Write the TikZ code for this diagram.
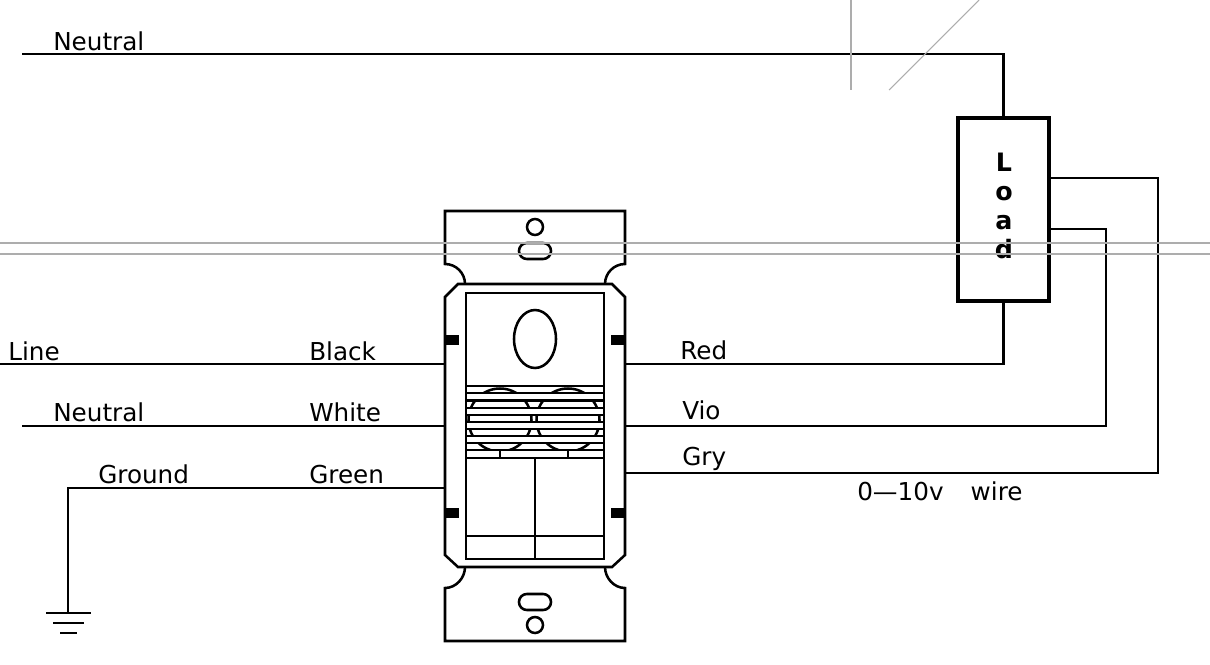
\documentclass[tikz,border=0pt]{standalone}
\usepackage{fontspec}
\setmainfont{DejaVu Sans}
\usetikzlibrary{positioning}
\tikzset{
wire/.style={line width=1.6pt},
plate/.style={line width=1.9pt},
slat/.style={line width=1.7pt},
ghost/.style={line width=0.8pt, color=black!32},
lbl/.style={anchor=base west, inner sep=0pt, font=\fontsize{18.5}{22}\selectfont},
loadbox/.style={draw, line width=2.8pt, minimum width=68pt, minimum height=137pt, inner sep=0pt}
}
\begin{document}
\begin{tikzpicture}[x=0.75pt, y=-0.75pt]
\useasboundingbox (0,0) rectangle (1210,664);
\node[loadbox] (load) at (1003.5,209.5) {};
\node[align=center, inner sep=0pt, font=\bfseries\fontsize{19}{21.8}\selectfont] (loadtext) at (1004,206) {L\\o\\a\\d};
% wall plate
\draw[plate] (465,284) .. controls (465,273) and (456,264) .. (445,264) -- (445,211) -- (625,211) -- (625,264) .. controls (614,264) and (605,273) .. (605,284);
\draw[plate] (465,567) .. controls (465,578) and (456,588) .. (445,588) -- (445,641) -- (625,641) -- (625,588) .. controls (614,588) and (605,578) .. (605,567);
\draw[plate] (445,297) -- (458,284) -- (612,284) -- (625,297) -- (625,555) -- (612,567) -- (458,567) -- (445,555) -- cycle;
\draw[plate] (535,227) circle (8);
\draw[plate] (535,625) circle (8);
\draw[plate, rounded corners=5.9pt] (519,243) rectangle (551,259);
\draw[plate, rounded corners=5.9pt] (519,594) rectangle (551,610);
\fill (445,335) rectangle (459,345);
\fill (611,335) rectangle (625,345);
\fill (445,508) rectangle (459,518);
\fill (611,508) rectangle (625,518);
% sensor
\draw[line width=2.2pt] (466,293) rectangle (604,559);
\draw[plate] (535,339) ellipse (21 and 29);
\begin{scope}
\clip (466,386) rectangle (604,393) (466,400.5) rectangle (604,408) (466,415) rectangle (604,422) (466,429) rectangle (604,436) (466,443) rectangle (604,450);
\draw[plate] (500,420) circle (31.5);
\draw[plate] (568,420) circle (31.5);
\end{scope}
\foreach \y in {386,393,400.5,408,415,422,429,436,443,450,458}
  \draw[slat] (466,\y) -- (604,\y);
\draw[slat] (500,450) -- (500,458);
\draw[slat] (568,450) -- (568,458);
\draw[slat] (535,458) -- (535,559);
\draw[slat] (466,536) -- (604,536);
% wires
\coordinate (ntop) at (22,54);
\coordinate (nleft) at (22,426);
\coordinate (lleft) at (0,364);
\coordinate (gnd) at (68,613);
\coordinate (black) at (445,364);
\coordinate (white) at (445,426);
\coordinate (green) at (445,488);
\coordinate (red) at (625,364);
\coordinate (vio) at (625,426);
\coordinate (gry) at (625,473);
\draw[wire] (ntop) -- (ntop -| load.north) -- (load.north);
\draw[wire] (lleft) -- (black);
\draw[wire] (nleft) -- (white);
\draw[wire] (green) -- (gnd |- green) -- (gnd);
\draw[wire] (red) -- (red -| load.south) -- (load.south);
\draw[wire] (vio) -- (1106,426) -- (1106,229) -- (load.east |- 1106,229);
\draw[wire] (gry) -- (1158,473) -- (1158,178) -- (load.east |- 1158,178);
% ground
\draw[wire] (46,613) -- (91,613);
\draw[wire] (53,623) -- (84,623);
\draw[wire] (60,633) -- (77,633);
% labels
\node[lbl] (a) at (53,50) {Neutral};
\node[lbl] (b) at (8,360) {Line};
\node[lbl] (c) at (53,421) {Neutral};
\node[lbl] (d) at (98,483) {Ground};
\node[lbl] (e) at (309,360) {Black};
\node[lbl] (f) at (309,421) {White};
\node[lbl] (g) at (309,483) {Green};
\node[lbl] (h) at (680,359) {Red};
\node[lbl] (i) at (682,419) {Vio};
\node[lbl] (j) at (682,465) {Gry};
\node[lbl] (k) at (857,500) {0—10v\hspace{1.1em}wire};
% stray construction lines
\draw[ghost] (0,243) -- (1210,243);
\draw[ghost] (0,254) -- (1210,254);
\draw[ghost] (851,0) -- (851,90);
\draw[ghost] (889,90) -- (979,0);
\end{tikzpicture}
\end{document}
